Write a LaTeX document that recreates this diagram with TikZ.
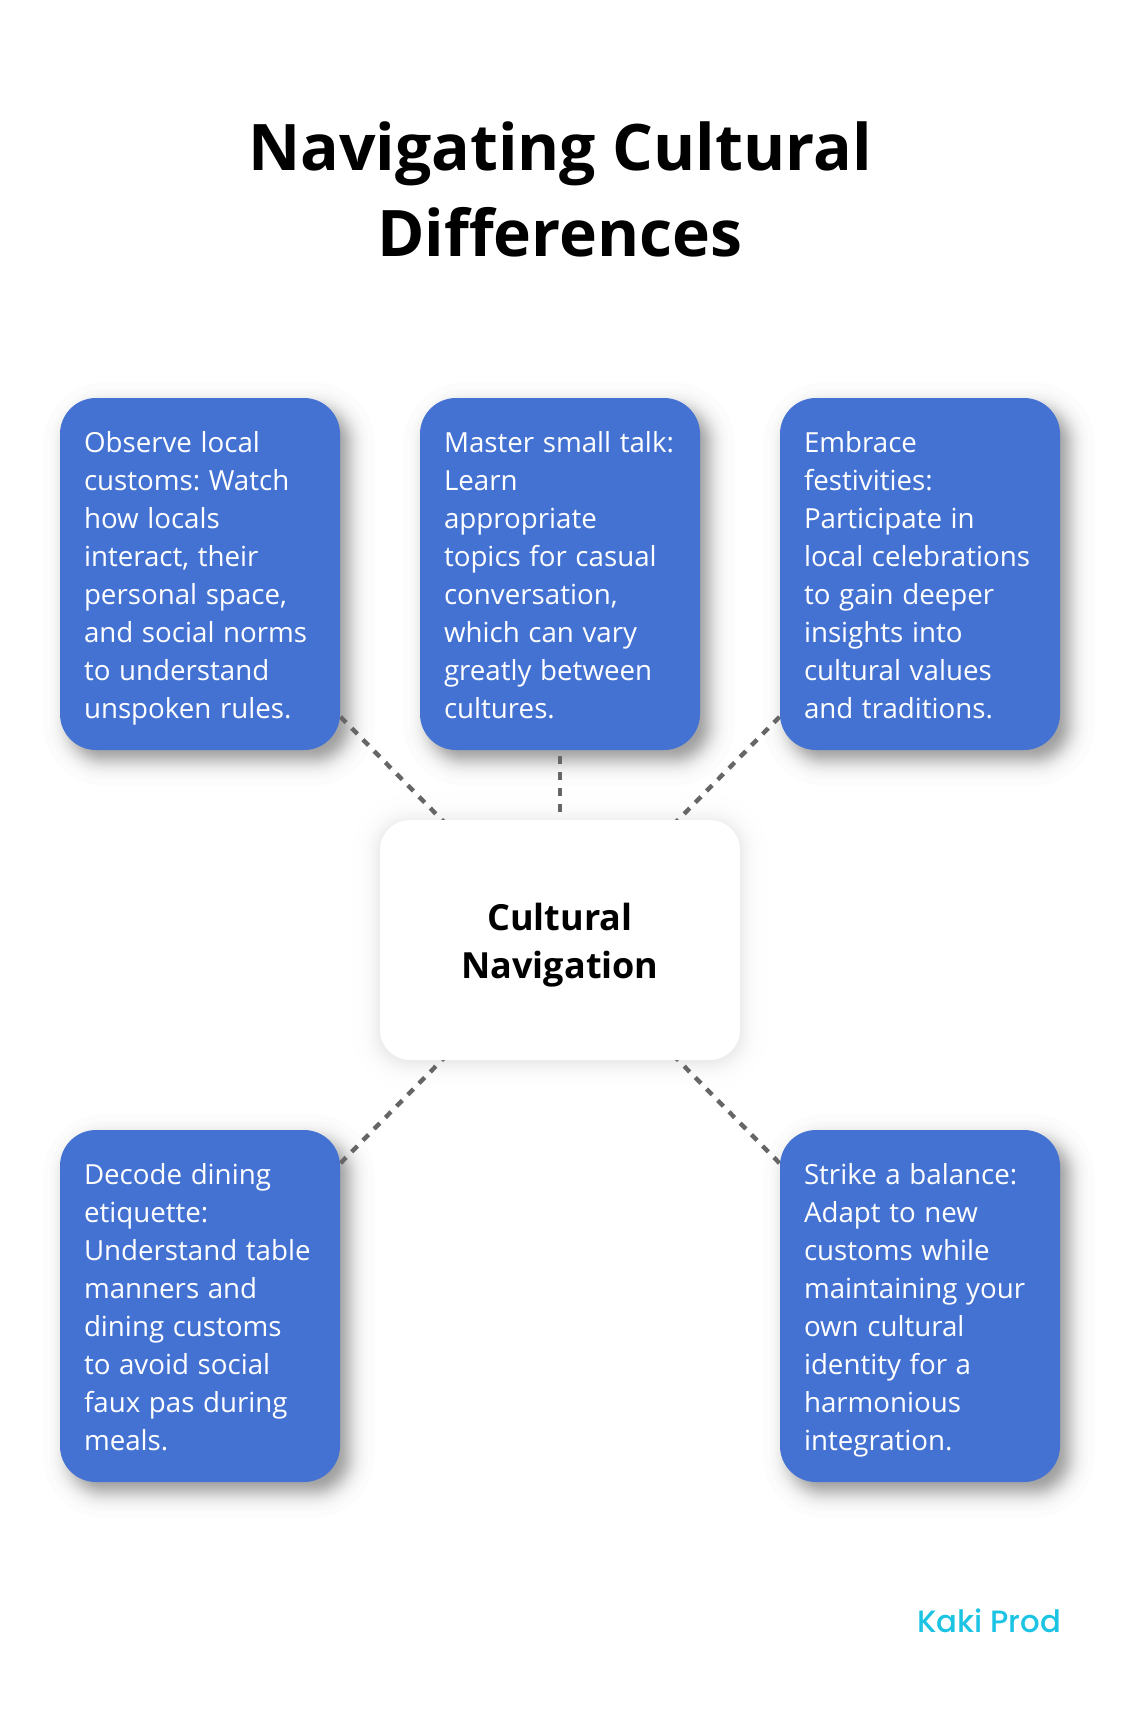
\documentclass[tikz,border=0pt]{standalone}
\usepackage{fontspec}
\setmainfont{Open Sans}
\newfontfamily\kakifont[UprightFont=* Medium]{Poppins}
\usetikzlibrary{calc,backgrounds}
\definecolor{boxblue}{HTML}{4472D3}
\definecolor{dashgray}{HTML}{666666}
\definecolor{kakicyan}{HTML}{1CC4E4}
\newcommand{\tipgap}{\spaceskip=8.6pt\relax}
% soft shadow: node, dx, dy, softness, radius, per-layer opacity
\newcommand{\softshade}[6]{%
  \foreach \k in {1,...,36}{%
    \pgfmathsetmacro{\uu}{(\k-0.5)/36}%
    \pgfmathsetmacro{\dd}{-#4*ln(\uu/(1-\uu))}%
    \pgfmathsetmacro{\rr}{max(#5+\dd,2)}%
    \fill[black,fill opacity=#6,rounded corners=\rr pt]
      ($(#1.north west)+(#2-\dd,#3-\dd)$) rectangle ($(#1.south east)+(#2+\dd,#3+\dd)$);
  }%
}
\tikzset{
  x=1pt,y=-1pt,
  tipbox/.style={fill=boxblue,text=white,rounded corners=36pt,minimum width=280pt,minimum height=352pt,
    text width=232pt,inner xsep=24pt,inner ysep=0pt,text height=54pt,text depth=298pt,
    align=left,font=\fontsize{27.7}{38}\selectfont\frenchspacing,anchor=center},
  hubbox/.style={fill=white,text=black,rounded corners=30pt,minimum width=360pt,minimum height=240pt,
    inner sep=0pt,text height=158.3pt,text depth=81.7pt,
    align=center,font=\fontsize{36}{48}\selectfont\bfseries,anchor=center},
  titletext/.style={text=black,align=center,inner sep=0pt,font=\fontsize{64.2}{86}\selectfont\bfseries},
  linkline/.style={dashgray,line width=4.4pt,dash pattern=on 8pt off 8pt},
  slantline/.style={linkline,dash phase=15pt},
  brand/.style={text=kakicyan,inner sep=0pt,anchor=base east,font=\fontsize{30.8}{36}\selectfont\kakifont}
}
\begin{document}
\begin{tikzpicture}
\useasboundingbox (0,0) rectangle (1120,1722);
\node[titletext] (title) at (560,189.6) {Navigating Cultural\\Differences};
\node[hubbox] (hub) at (560,940) {Cultural\\Navigation};
\node[tipbox] (tip1) at (200,574) {\tipgap Observe local\\customs: Watch\\how locals\\interact, their\\personal space,\\and social norms\\to understand\\unspoken rules.};
\node[tipbox] (tip2) at (560,574) {\tipgap \mbox{Master small talk:}\\Learn\\appropriate\\topics for casual\\conversation,\\which can vary\\greatly between\\cultures.};
\node[tipbox] (tip3) at (920,574) {\tipgap Embrace\\festivities:\\Participate in\\local celebrations\\to gain deeper\\insights into\\cultural values\\and traditions.};
\node[tipbox] (tip4) at (200,1306) {\tipgap Decode dining\\etiquette:\\Understand table\\manners and\\dining customs\\to avoid social\\faux pas during\\meals.};
\node[tipbox] (tip5) at (920,1306) {\tipgap Strike a balance:\\Adapt to new\\customs while\\maintaining your\\own cultural\\identity for a\\harmonious\\integration.};
\node[brand] (logo) at (1061.5,1632) {Kaki Prod};
\begin{scope}[on background layer]
\fill[white] (0,0) rectangle (1120,1722);
\softshade{hub}{0}{2}{6.5}{30}{0.0042}
\foreach \g in {tip1,tip2,tip3,tip4,tip5}{\softshade{\g}{9}{10}{6}{36}{0.011}}
\draw[slantline] (hub.center) -- (tip1.center);
\draw[linkline] (hub.center) -- (tip2.center);
\draw[slantline] (hub.center) -- (tip3.center);
\draw[slantline] (hub.center) -- (tip4.center);
\draw[slantline] (hub.center) -- (tip5.center);
\end{scope}
\end{tikzpicture}
\end{document}
